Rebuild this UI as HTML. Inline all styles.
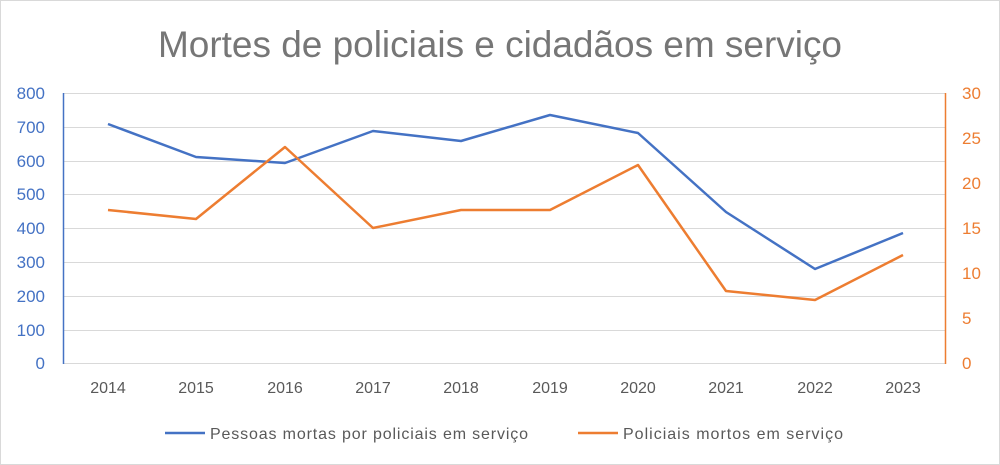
<!DOCTYPE html>
<html><head><meta charset="utf-8"><style>
html,body{margin:0;padding:0;background:#fff;}
svg{display:block;font-family:"Liberation Sans",sans-serif;}
</style></head><body>
<svg width="1000" height="465" viewBox="0 0 1000 465" xmlns="http://www.w3.org/2000/svg">
<rect x="0.5" y="0.5" width="999" height="464" fill="#fff" stroke="#d9d9d9"/>
<text x="500" y="57" text-anchor="middle" font-size="37" fill="#767676" textLength="684">Mortes de policiais e cidadãos em serviço</text>
<g stroke="#d9d9d9" stroke-width="1">
<line x1="63" x2="945" y1="93.5" y2="93.5"/>
<line x1="63" x2="945" y1="127.5" y2="127.5"/>
<line x1="63" x2="945" y1="161.5" y2="161.5"/>
<line x1="63" x2="945" y1="194.5" y2="194.5"/>
<line x1="63" x2="945" y1="228.5" y2="228.5"/>
<line x1="63" x2="945" y1="262.5" y2="262.5"/>
<line x1="63" x2="945" y1="296.5" y2="296.5"/>
<line x1="63" x2="945" y1="330.5" y2="330.5"/>
<line x1="63" x2="945" y1="363.5" y2="363.5"/>
</g>
<line x1="63.5" x2="63.5" y1="93" y2="364" stroke="#4472c4" stroke-width="1.5"/>
<line x1="945.5" x2="945.5" y1="93" y2="364" stroke="#ed7d31" stroke-width="1.5"/>
<g font-size="17" fill="#4472c4" text-anchor="end">
<text x="45" y="99">800</text><text x="45" y="133">700</text><text x="45" y="167">600</text>
<text x="45" y="200">500</text><text x="45" y="234">400</text><text x="45" y="268">300</text>
<text x="45" y="302">200</text><text x="45" y="336">100</text><text x="45" y="369">0</text>
</g>
<g font-size="17" fill="#ed7d31" text-anchor="start">
<text x="962" y="99">30</text><text x="962" y="144">25</text><text x="962" y="189">20</text>
<text x="962" y="234">15</text><text x="962" y="279">10</text><text x="962" y="324">5</text>
<text x="962" y="369">0</text>
</g>
<g font-size="16" fill="#595959" text-anchor="middle">
<text x="108" y="393">2014</text><text x="196" y="393">2015</text><text x="285" y="393">2016</text>
<text x="373" y="393">2017</text><text x="461" y="393">2018</text><text x="550" y="393">2019</text>
<text x="638" y="393">2020</text><text x="726" y="393">2021</text><text x="815" y="393">2022</text>
<text x="903" y="393">2023</text>
</g>
<polyline fill="none" stroke="#4472c4" stroke-width="2.5" stroke-linejoin="round"
points="108,124 196,157 285,163 373,131 461,141 550,115 638,133 726,212 815,269 903,233"/>
<polyline fill="none" stroke="#ed7d31" stroke-width="2.5" stroke-linejoin="round"
points="108,210 196,219 285,147 373,228 461,210 550,210 638,165 726,291 815,300 903,255"/>
<line x1="165" x2="205" y1="433" y2="433" stroke="#4472c4" stroke-width="2.5"/>
<text x="210" y="439" font-size="16" fill="#595959" textLength="318">Pessoas mortas por policiais em serviço</text>
<line x1="578" x2="618" y1="433" y2="433" stroke="#ed7d31" stroke-width="2.5"/>
<text x="623" y="439" font-size="16" fill="#595959" textLength="220">Policiais mortos em serviço</text>
</svg>
</body></html>
